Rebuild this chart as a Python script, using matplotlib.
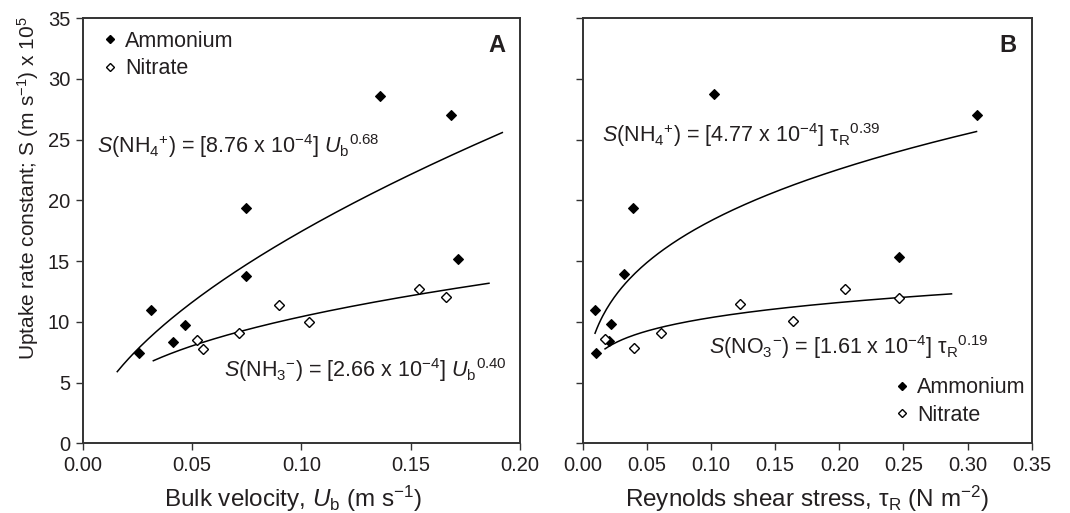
import numpy as np
import matplotlib
matplotlib.use('Agg')
import matplotlib.pyplot as plt
from matplotlib.lines import Line2D

plt.rcParams['font.family'] = ['Liberation Sans', 'DejaVu Sans']
plt.rcParams['mathtext.fontset'] = 'custom'
plt.rcParams['mathtext.rm'] = 'Liberation Sans'
plt.rcParams['mathtext.it'] = 'Liberation Sans:italic'
plt.rcParams['mathtext.bf'] = 'Liberation Sans:bold'

TXT = '#231f20'

# ---------------- Panel A: bulk velocity ----------------
a_nh4_x = [0.0257, 0.0313, 0.0414, 0.0468, 0.0745, 0.0745, 0.136, 0.1684, 0.1715]
a_nh4_y = [7.4, 10.95, 8.37, 9.73, 19.36, 13.8, 28.63, 27.02, 15.18]
a_no3_x = [0.0521, 0.0550, 0.0715, 0.0898, 0.1036, 0.1538, 0.1660]
a_no3_y = [8.48, 7.73, 9.06, 11.39, 10.02, 12.68, 12.03]
# power-law fit curves (coef, exponent, x-range)
a_nh4_fit = (67.5, 0.5876, 0.0158, 0.1919)
a_no3_fit = (24.91, 0.3783, 0.0323, 0.1858)

# ---------------- Panel B: Reynolds shear stress ----------------
b_nh4_x = [0.0096, 0.0104, 0.0205, 0.0224, 0.0325, 0.0395, 0.1025, 0.2464, 0.3070]
b_nh4_y = [11.0, 7.46, 8.4, 9.8, 13.9, 19.4, 28.75, 15.3, 27.07]
b_no3_x = [0.0174, 0.0400, 0.0611, 0.1223, 0.1639, 0.2042, 0.2469]
b_no3_y = [8.55, 7.82, 9.06, 11.47, 10.07, 12.71, 11.99]
b_nh4_fit = (36.61, 0.3005, 0.0096, 0.307)
b_no3_fit = (15.09, 0.1637, 0.0174, 0.2875)

a_xticks = [0.00, 0.05, 0.10, 0.15, 0.20]
b_xticks = [0.00, 0.05, 0.10, 0.15, 0.20, 0.25, 0.30, 0.35]
yticks = [0, 5, 10, 15, 20, 25, 30, 35]

fig = plt.figure(figsize=(10.7, 5.13), dpi=100)
axA = fig.add_axes([0.0773, 0.1359, 0.4087, 0.8285])
axB = fig.add_axes([0.5446, 0.1359, 0.4196, 0.8285])

MS = 5.6
def draw(ax, nx, ny, ox, oy, fit1, fit2):
    for (c, b, x0, x1) in (fit1, fit2):
        xs = np.linspace(x0, x1, 200)
        ax.plot(xs, c * xs ** b, color='black', lw=1.1, zorder=2)
    ax.plot(nx, ny, ls='none', marker='D', ms=MS, mfc='black', mec='black',
            mew=0.8, zorder=3)
    ax.plot(ox, oy, ls='none', marker='D', ms=MS, mfc='white', mec='black',
            mew=1.0, zorder=4)

draw(axA, a_nh4_x, a_nh4_y, a_no3_x, a_no3_y, a_nh4_fit, a_no3_fit)
draw(axB, b_nh4_x, b_nh4_y, b_no3_x, b_no3_y, b_nh4_fit, b_no3_fit)

for ax, xt, xmax in ((axA, a_xticks, 0.20), (axB, b_xticks, 0.35)):
    ax.set_xlim(0, xmax)
    ax.set_ylim(0, 35)
    ax.set_xticks(xt)
    ax.set_xticklabels(['%.2f' % v for v in xt])
    ax.set_yticks(yticks)
    for s in ax.spines.values():
        s.set_linewidth(1.4)
        s.set_color('#333333')
    ax.tick_params(direction='out', length=5, width=1.0, colors='#333333',
                   labelcolor=TXT, labelsize=14.5, pad=4)

axB.set_yticklabels([])

axA.set_xlabel(r'Bulk velocity, $U_{\rm b}$ (m s$^{-1}$)', fontsize=17.5, color=TXT)
axB.set_xlabel(r'Reynolds shear stress, τ$_{\rm R}$ (N m$^{-2}$)', fontsize=17.5, color=TXT)
axA.xaxis.set_label_coords(0.481, -0.095)
axB.xaxis.set_label_coords(0.5, -0.095)
axA.set_ylabel(r'Uptake rate constant; S (m s$^{-1}$) x 10$^{5}$', fontsize=15, color=TXT)
axA.yaxis.set_label_coords(-0.095, 0.6)

eqfs = 15.5
axA.text(0.0064, 23.94, r'$S$(NH$_{4}{}^{+}$) = [8.76 x 10$^{-4}$] $U_{\rm b}{}^{0.68}$',
         fontsize=eqfs, color=TXT, ha='left', va='baseline')
axA.text(0.0647, 5.49, r'$S$(NH$_{3}{}^{-}$) = [2.66 x 10$^{-4}$] $U_{\rm b}{}^{0.40}$',
         fontsize=eqfs, color=TXT, ha='left', va='baseline')
axB.text(0.0148, 24.84, r'$S$(NH$_{4}{}^{+}$) = [4.77 x 10$^{-4}$] τ${}_{\rm R}{}^{0.39}$',
         fontsize=eqfs, color=TXT, ha='left', va='baseline')
axB.text(0.0988, 7.36, r'$S$(NO$_{3}{}^{-}$) = [1.61 x 10$^{-4}$] τ${}_{\rm R}{}^{0.19}$',
         fontsize=eqfs, color=TXT, ha='left', va='baseline')

axA.text(0.947, 0.937, 'A', transform=axA.transAxes, fontsize=17, fontweight='bold',
         color=TXT, ha='center', va='center')
axB.text(0.948, 0.935, 'B', transform=axB.transAxes, fontsize=17, fontweight='bold',
         color=TXT, ha='center', va='center')

handles = [Line2D([], [], ls='none', marker='D', ms=4.1, mfc='black', mec='black'),
           Line2D([], [], ls='none', marker='D', ms=4.1, mfc='white', mec='black', mew=1.0)]
labels = ['Ammonium', 'Nitrate']
for ax, anchor in ((axA, (0.0465, 0.97)), (axB, (0.6966, 0.155))):
    leg = ax.legend(handles, labels, loc='upper left', bbox_to_anchor=anchor,
                    frameon=False, fontsize=15.5, handlelength=0.6, handletextpad=0.42,
                    borderpad=0, borderaxespad=0, labelspacing=0.3)
    for t in leg.get_texts():
        t.set_color(TXT)

fig.savefig('out.png', dpi=100)
